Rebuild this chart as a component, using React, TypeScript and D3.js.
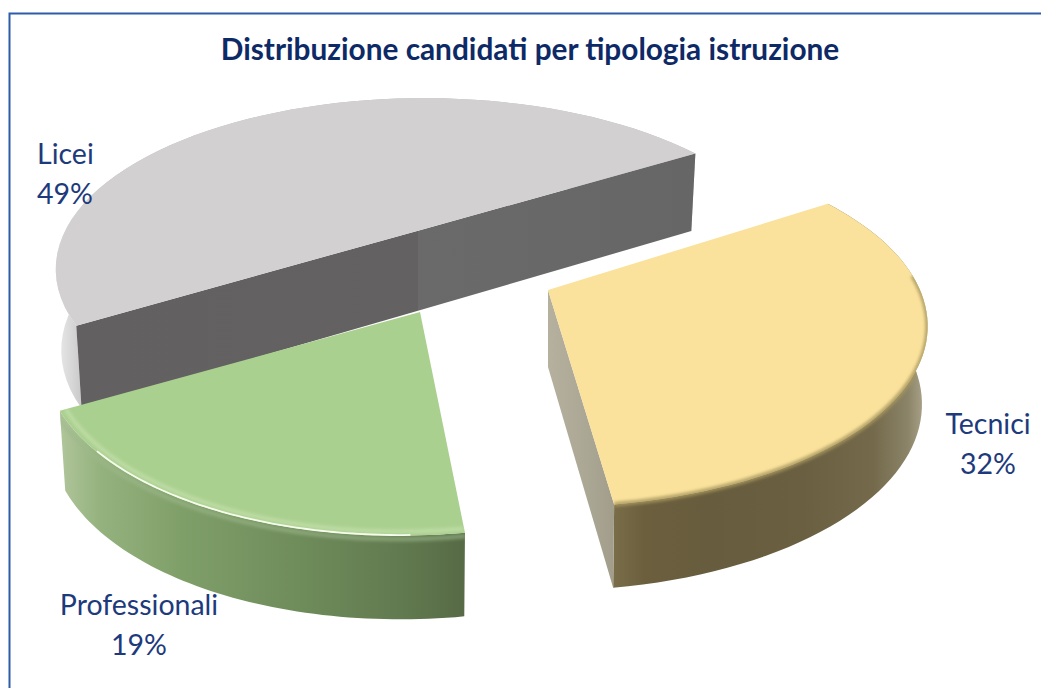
import React from "react";
import * as d3 from "d3";

const categories = ["Licei", "Tecnici", "Professionali"];
const shares = [49, 32, 19];
const topColors = ["#d2d0d1", "#fae29c", "#aad08f"];
const title = "Distribuzione candidati per tipologia istruzione";

const W = 1041, H = 688;
const deg = Math.PI / 180;
// Perspective view of an exploded pie: each slice has its own centre after being pulled out
const R = 372, T = 172, P = 0.2, DEPTH = 77, GROW = 0.03, SHRINK = 0.985;
const explode: Record<string, { cx: number; cy: number; r: number; t: number; lean: number; extra: number; splitX?: number }> = {
  Licei: { cx: 424, cy: 235, r: 0.97, t: 0.955, lean: 0, extra: 3, splitX: 418 },
  Tecnici: { cx: 548, cy: 290, r: 1.0, t: 1.01, lean: 0, extra: 0 },
  Professionali: { cx: 420, cy: 312, r: 0.98, t: 1.04, lean: -0.09, extra: 0 },
};
const labelPos = [
  { x: 37, y: 164, anchor: "start" },
  { x: 988, y: 434, anchor: "middle" },
  { x: 139, y: 615, anchor: "middle" },
];

const pie = d3.pie<number>().sort(null).startAngle(-119.8 * deg).endAngle(240.2 * deg);
const arcs = pie(shares);

type Pt = [number, number];
function project(name: string, a: number, rho = 1, drop = false): Pt {
  const e = explode[name];
  const th = a - Math.PI / 2;
  const k = 1 / (1 - P * rho * Math.sin(th));
  const dx = R * e.r * rho * Math.cos(th) * k;
  const dy = T * e.t * rho * Math.sin(th) * k;
  const x = dx + e.lean * dy;
  if (!drop) return [e.cx + x, e.cy + dy];
  return [e.cx + x * SHRINK, e.cy + dy + DEPTH + e.extra + GROW * dy];
}
const line = d3.line<Pt>();
const samples = (a0: number, a1: number) => d3.range(0, 61).map((i) => a0 + ((a1 - a0) * i) / 60);

function hGrad(id: string, x0: number, x1: number, stops: [number, string][]) {
  return (
    <linearGradient id={id} gradientUnits="userSpaceOnUse" x1={x0} x2={x1} y1={0} y2={0}>
      {stops.map(([o, c], i) => (
        <stop key={i} offset={o} stopColor={c} />
      ))}
    </linearGradient>
  );
}

export default function App() {
  const geo = categories.map((name, i) => {
    const { startAngle: a0, endAngle: a1 } = arcs[i];
    const as = samples(a0, a1);
    const top = as.map((a) => project(name, a));
    const low = as.map((a) => project(name, a, 1, true));
    const e = explode[name];
    const first = top[0], last = top[top.length - 1];
    const apex: Pt = e.splitX === undefined
      ? [e.cx, e.cy]
      : [e.splitX, first[1] + ((last[1] - first[1]) * (e.splitX - first[0])) / (last[0] - first[0])];
    const apexLow: Pt = [apex[0], apex[1] + DEPTH + e.extra];
    return {
      name, a0, a1, top, low, apex, apexLow,
      face: line([apex, ...top])! + "Z",
      wall: line([...top, ...low.slice().reverse()])! + "Z",
      cutStart: line([apex, top[0], low[0], apexLow])! + "Z",
      cutEnd: line([apex, top[top.length - 1], low[low.length - 1], apexLow])! + "Z",
    };
  });
  const [lic, tec, pro] = geo;
  const edge = (name: string, a0: number, a1: number, rho: number) =>
    line(samples(a0, a1).map((a) => project(name, a, rho)))!;

  return (
    <svg width={W} height={H} style={{ position: "absolute", left: 0, top: 0 }} fontFamily="Lato">
      <defs>
        {hGrad("licWall", 55, 90, [[0, "#ececec"], [0.5, "#d6d6d6"], [1, "#bdbdbd"]])}
        {hGrad("licCutA", 80, 418, [[0, "#626060"], [1, "#636162"]])}
        {hGrad("licCutB", 418, 698, [[0, "#6a6a6a"], [1, "#666666"]])}
        {hGrad("tecWall", 613, 930, [[0, "#7a6d49"], [0.1, "#6b5f3e"], [0.3, "#675c3d"], [0.6, "#6a5f41"], [0.82, "#74694b"], [0.93, "#8b8468"], [1, "#b4ae96"]])}
        {hGrad("tecCut", 548, 618, [[0, "#b6b19e"], [0.6, "#aaa694"], [1, "#a09c88"]])}
        {hGrad("proWall", 60, 467, [[0, "#b0c59b"], [0.1, "#94b27d"], [0.3, "#7f9f69"], [0.6, "#6e8b5a"], [0.85, "#61794f"], [1, "#566a45"]])}
        <filter id="soft" x="-10%" y="-10%" width="120%" height="120%">
          <feGaussianBlur stdDeviation="1.8" />
        </filter>
        <filter id="softer" x="-10%" y="-10%" width="120%" height="120%">
          <feGaussianBlur stdDeviation="0.7" />
        </filter>
        <clipPath id="proClip"><path d={pro.face} /><path d={pro.wall} /></clipPath>
        <clipPath id="tecClip"><path d={tec.face} /><path d={tec.wall} /></clipPath>
      </defs>

      <rect x={0} y={0} width={W} height={H} fill="#ffffff" />
      <rect x={9.5} y={13.5} width={W + 20} height={H + 20} fill="#ffffff" stroke="#2f5ca8" strokeWidth={2} />

      <text x={530} y={60} textAnchor="middle" fontSize={29.8} fontWeight={700} fill="#0e2a66">{title}</text>

      {/* Licei */}
      <path d={lic.wall} fill="url(#licWall)" />
      <path d={lic.cutStart} fill="url(#licCutA)" />
      <path d={lic.cutEnd} fill="url(#licCutB)" />
      <path d={lic.face} fill={topColors[0]} />

      {/* Professionali */}
      <path d={pro.wall} fill="url(#proWall)" />
      <path d={pro.face} fill={topColors[2]} />
      <g clipPath="url(#proClip)">
        <path d={edge("Professionali", pro.a0, pro.a1, 1.012)} fill="none" stroke="#9db88a" strokeOpacity={0.55} strokeWidth={5} filter="url(#soft)" />
        <path d={edge("Professionali", pro.a0, pro.a1, 0.985)} fill="none" stroke="#c4dfac" strokeOpacity={0.7} strokeWidth={4} filter="url(#soft)" />
        <path d={edge("Professionali", pro.a0 + 0.12, pro.a1 - 0.22, 0.998)} fill="none" stroke="#f6fcec" strokeWidth={1.8} filter="url(#softer)" />
      </g>

      {/* Tecnici */}
      <path d={tec.wall} fill="url(#tecWall)" />
      <path d={tec.cutEnd} fill="url(#tecCut)" />
      <path d={tec.face} fill={topColors[1]} />
      <g clipPath="url(#tecClip)">
        <path d={edge("Tecnici", tec.a0 + 0.5, tec.a1, 1.0)} fill="none" stroke="#a8975f" strokeWidth={5} strokeOpacity={0.8} filter="url(#soft)" />
      </g>

      {categories.map((c, i) => (
        <g key={c} fontSize={28.5} fill="#1d3a7c" textAnchor={labelPos[i].anchor}>
          <text x={labelPos[i].x} y={labelPos[i].y}>{c}</text>
          <text x={labelPos[i].x} y={labelPos[i].y + 40}>{shares[i]}%</text>
        </g>
      ))}
    </svg>
  );
}
